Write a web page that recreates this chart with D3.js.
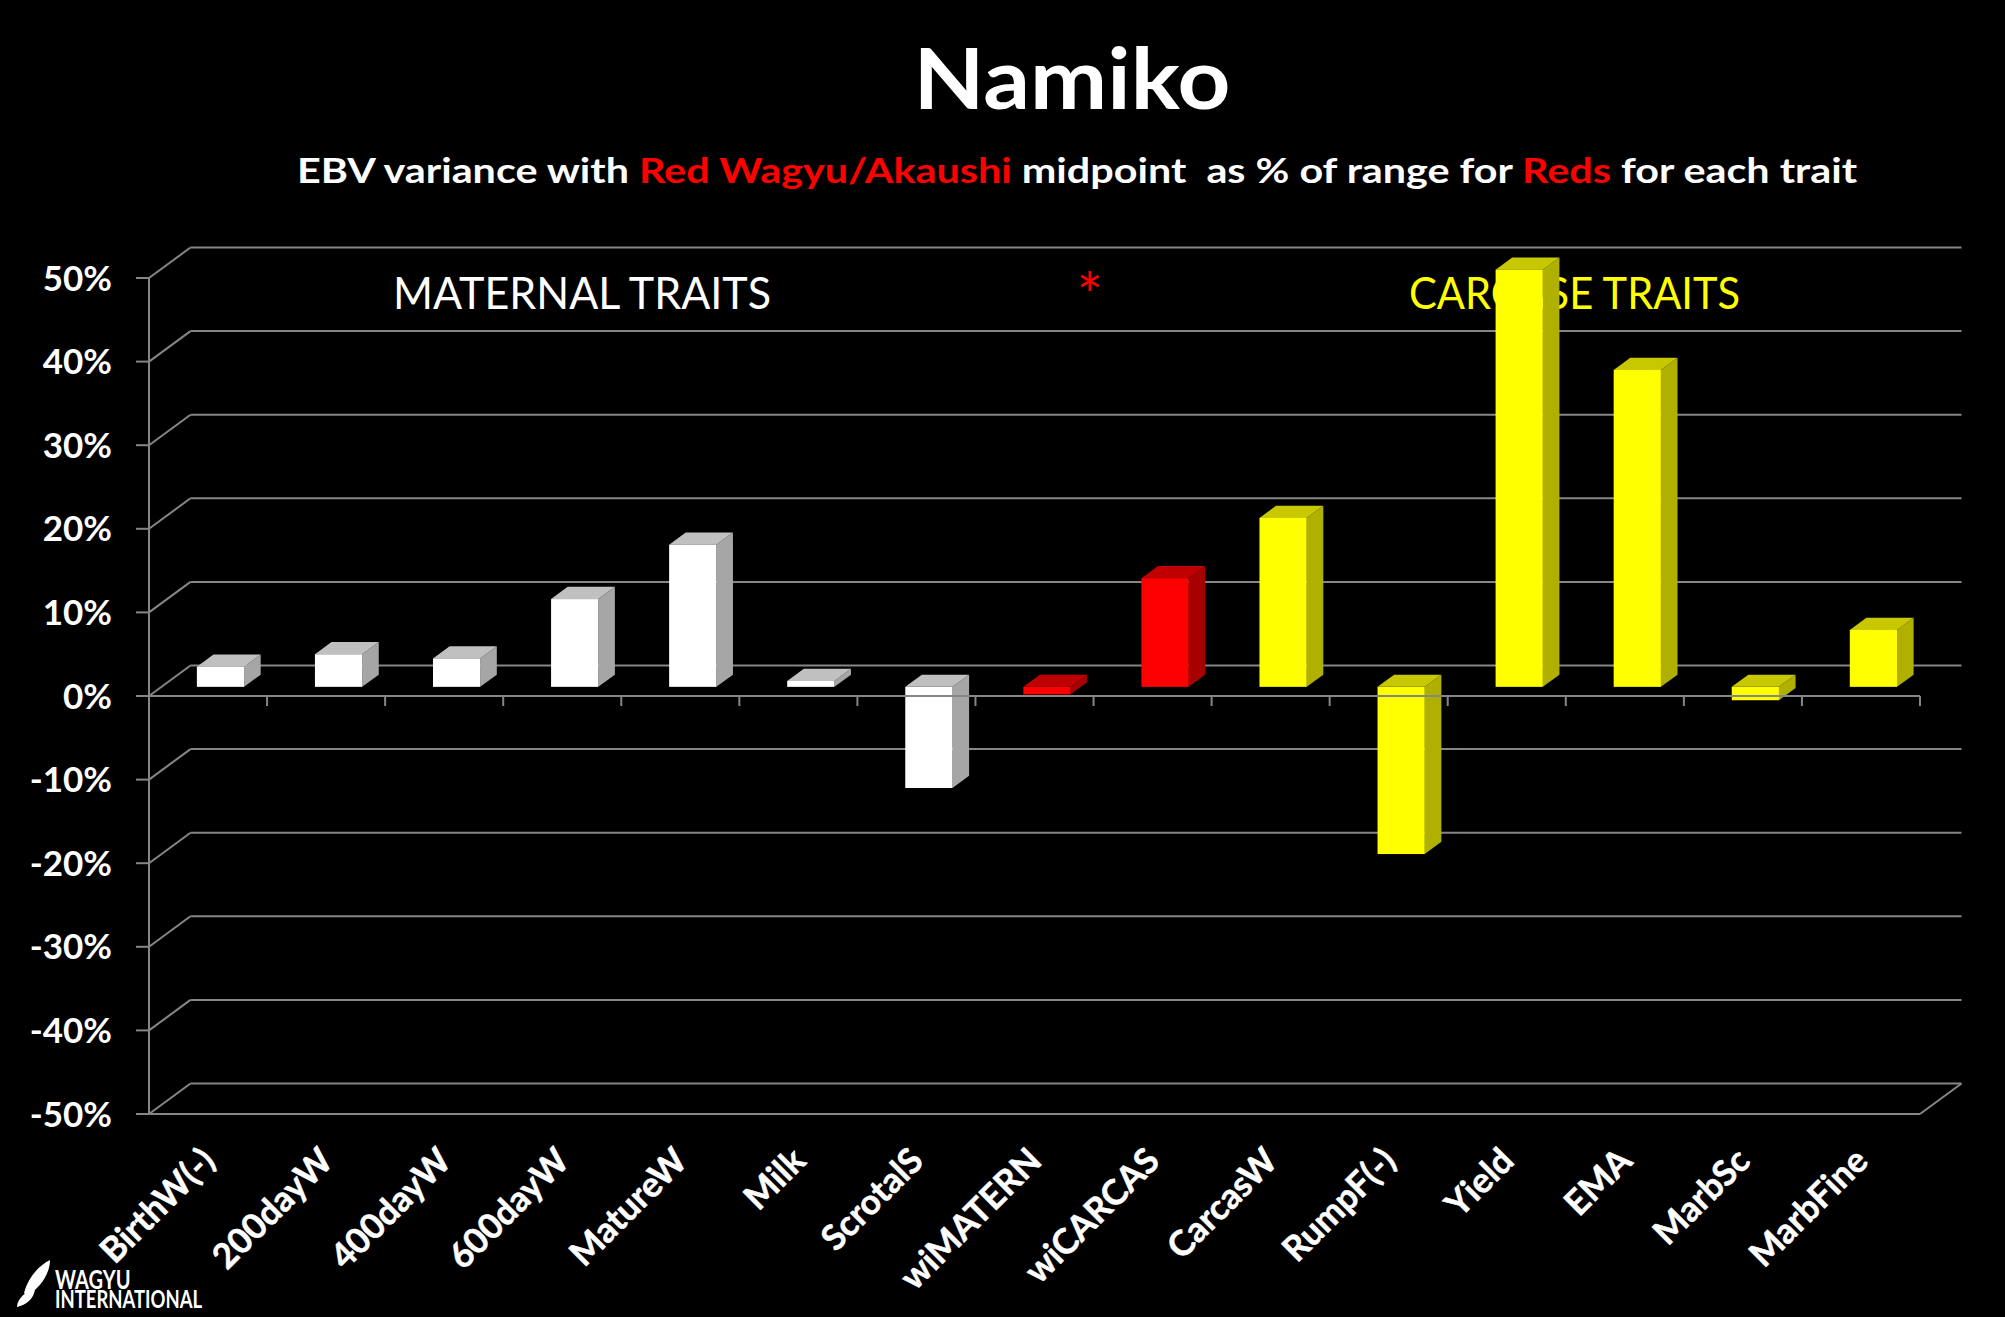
<!DOCTYPE html>
<html><head><meta charset="utf-8">
<script src="https://cdn.jsdelivr.net/npm/d3@7"></script>
<style>html,body{margin:0;padding:0;background:#000;overflow:hidden}</style>
</head><body>
<script>
// ---- data ----
const categories = ["BirthW(-)","200dayW","400dayW","600dayW","MatureW","Milk","ScrotalS","wiMATERN","wiCARCAS","CarcasW","RumpF(-)","Yield","EMA","MarbSc","MarbFine"];
const values = [2.4, 3.9, 3.4, 10.5, 17.0, 0.7, -12.1, -0.9, 13.0, 20.2, -20.0, 49.9, 37.9, -1.6, 6.8];
const barGroups = ["maternal","maternal","maternal","maternal","maternal","maternal","maternal","index","index","carcase","carcase","carcase","carcase","carcase","carcase"];
const yTicks = [-50,-40,-30,-20,-10,0,10,20,30,40,50];
const yTickLabels = ["-50%","-40%","-30%","-20%","-10%","0%","10%","20%","30%","40%","50%"];
const titleText = "Namiko";
const subtitleParts = [["EBV variance with ","#ffffff"],["Red Wagyu/Akaushi","#ff0000"],[" midpoint  as % of range for ","#ffffff"],["Reds","#ff0000"],[" for each trait","#ffffff"]];

// ---- styles ----
const palette = {
  maternal: {front:"#ffffff", top:"#c0c0c0", side:"#a6a6a6"},
  index:    {front:"#ff0000", top:"#c00000", side:"#a60000"},
  carcase:  {front:"#ffff00", top:"#c8c800", side:"#b0b000"}
};
const W = 2005, H = 1317;
const svg = d3.select("body").append("svg").attr("width", W).attr("height", H);
svg.append("rect").attr("width", W).attr("height", H).attr("fill", "#000");

const x0 = 149, x1 = 1920, yBot = 1114, yTop = 278;
const depthX = 41.5, depthY = -30.5;
const y = d3.scaleLinear().domain([-50, 50]).range([yBot, yTop]);
const x = d3.scaleBand().domain(categories).range([x0, x1]).paddingInner(0.6).paddingOuter(0.3);
const step = x.step();
const grid = "#868686";
const font = "Lato, 'Open Sans', sans-serif";

// ---- title ----
svg.append("text").attr("x", 1072).attr("y", 109).attr("text-anchor", "middle")
  .attr("font-family", font).attr("font-weight", 700).attr("font-size", 85)
  .attr("fill", "#fff").attr("textLength", 317).attr("lengthAdjust", "spacingAndGlyphs")
  .text(titleText);
const sub = svg.append("text").attr("x", 297).attr("y", 183)
  .attr("font-family", font).attr("font-weight", 700).attr("font-size", 34)
  .attr("textLength", 1560).attr("lengthAdjust", "spacingAndGlyphs")
  .style("white-space", "pre");
subtitleParts.forEach(p => sub.append("tspan").attr("fill", p[1]).text(p[0]));

// ---- walls / gridlines ----
const g = svg.append("g").attr("stroke", grid).attr("stroke-width", 2).attr("fill", "none");
yTicks.forEach(t => {
  const yy = y(t);
  g.append("line").attr("x1", x0).attr("y1", yy).attr("x2", x0 + depthX).attr("y2", yy + depthY);
  g.append("line").attr("x1", x0 + depthX).attr("y1", yy + depthY).attr("x2", x1 + depthX).attr("y2", yy + depthY);
  g.append("line").attr("x1", 136).attr("y1", yy).attr("x2", x0).attr("y2", yy);
});
// floor
g.append("line").attr("x1", x0).attr("y1", y(-50)).attr("x2", x1).attr("y2", y(-50));
g.append("line").attr("x1", x1).attr("y1", y(-50)).attr("x2", x1 + depthX).attr("y2", y(-50) + depthY);
// value axis
g.append("line").attr("x1", x0).attr("y1", y(50)).attr("x2", x0).attr("y2", y(-50));

// y labels
svg.append("g").selectAll("text").data(yTicks).join("text")
  .attr("x", 112).attr("y", d => y(d) + 12.5).attr("text-anchor", "end")
  .attr("font-family", font).attr("font-weight", 700).attr("font-size", 35).attr("fill", "#fff")
  .text((d, i) => yTickLabels[i]);

// ---- annotations (behind bars) ----
svg.append("text").attr("x", 393).attr("y", 309).attr("font-family", font).attr("font-size", 44)
  .attr("fill", "#fff").attr("textLength", 378).attr("lengthAdjust", "spacingAndGlyphs").text("MATERNAL TRAITS");
svg.append("text").attr("x", 1090).attr("y", 318).attr("text-anchor", "middle").attr("font-family", font).attr("font-size", 62)
  .attr("fill", "#ff0000").text("*");
svg.append("text").attr("x", 1409).attr("y", 309).attr("font-family", font).attr("font-size", 44)
  .attr("fill", "#ffff00").attr("textLength", 331).attr("lengthAdjust", "spacingAndGlyphs").text("CARCASE TRAITS");

// ---- bars ----
const fOff = 0.3, bDepth = 0.4;
const bars = svg.append("g");
categories.forEach((c, i) => {
  const v = values[i];
  const col = palette[barGroups[i]];
  const bx = x(c) + fOff * depthX;
  const top = y(Math.max(0, v)) + fOff * depthY;
  const bot = y(Math.min(0, v)) + fOff * depthY;
  const w = x.bandwidth();
  const dx = bDepth * depthX, dy = bDepth * depthY;
  bars.append("polygon").attr("fill", col.side)
    .attr("points", [[bx + w, top], [bx + w + dx, top + dy], [bx + w + dx, bot + dy], [bx + w, bot]].join(" "));
  bars.append("polygon").attr("fill", col.top)
    .attr("points", [[bx, top], [bx + w, top], [bx + w + dx, top + dy], [bx + dx, top + dy]].join(" "));
  bars.append("rect").attr("fill", col.front).attr("x", bx).attr("y", top).attr("width", w).attr("height", Math.max(0.5, bot - top));
});

// ---- category axis at 0 ----
const ax = svg.append("g").attr("stroke", grid).attr("stroke-width", 2);
ax.append("line").attr("x1", 136).attr("y1", y(0)).attr("x2", x1).attr("y2", y(0));
d3.range(1, categories.length + 1).forEach(k => {
  ax.append("line").attr("x1", x0 + k * step).attr("y1", y(0)).attr("x2", x0 + k * step).attr("y2", y(0) + 10);
});

// x labels
svg.append("g").selectAll("text").data(categories).join("text")
  .attr("transform", d => `translate(${x(d) + x.bandwidth() / 2 + 9},1163) rotate(-45)`)
  .attr("text-anchor", "end").attr("font-family", font).attr("font-weight", 700).attr("font-size", 35)
  .attr("fill", "#fff").attr("stroke", "#fff").attr("stroke-width", 0.5).text(d => d);

// ---- logo ----
const logo = svg.append("g").attr("fill", "#fff");
logo.append("path").attr("d", "M24,1293 C28,1278 38,1266 50,1260 C50,1274 40,1288 27,1296 Z");
logo.append("path").attr("d", "M17,1306 C18,1298 26,1291 35,1289 C34,1299 26,1305 17,1307 Z");
const logoText = logo.append("g").attr("transform", "translate(55,0) scale(0.77,1)")
  .append("text").attr("font-family", font).attr("font-weight", 700);
logoText.append("tspan").attr("x", 0).attr("y", 1289).attr("font-size", 26).text("WAGYU");
logoText.append("tspan").attr("x", 0).attr("y", 1308).attr("font-size", 24).text("INTERNATIONAL");
</script>
</body></html>
